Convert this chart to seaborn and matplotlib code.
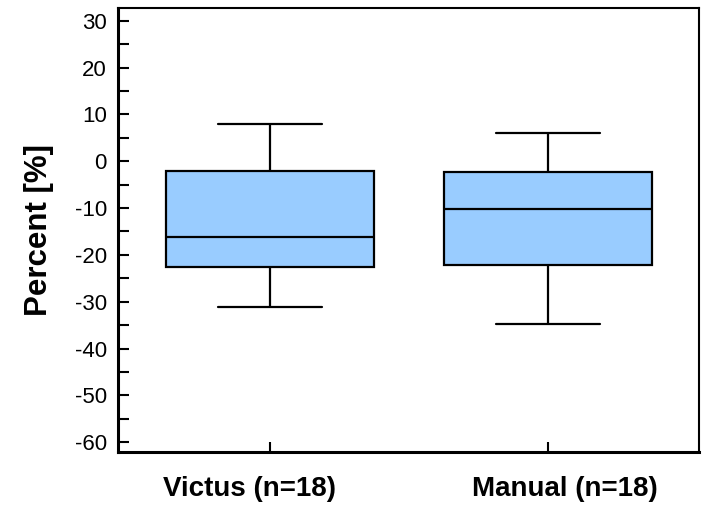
import matplotlib
matplotlib.use("Agg")
import matplotlib.pyplot as plt
import matplotlib.transforms as mtransforms
import seaborn as sns
import pandas as pd
from matplotlib.ticker import MultipleLocator

# Box summary values (min, Q1, median, Q3, max)
victus_values = [-31.1, -22.6, -16.2, -2.1, 7.9]
manual_values = [-34.8, -22.2, -10.2, -2.3, 6.1]
categories = ["Victus (n=18)", "Manual (n=18)"]

df = pd.DataFrame({
    "group": [categories[0]] * len(victus_values) + [categories[1]] * len(manual_values),
    "value": victus_values + manual_values,
})

sns.set_style("white")
plt.rcParams["font.family"] = ["Liberation Sans", "DejaVu Sans"]
plt.rcParams["axes.unicode_minus"] = False
for key in ["text.color", "axes.labelcolor", "xtick.color", "ytick.color",
            "xtick.labelcolor", "ytick.labelcolor"]:
    plt.rcParams[key] = "black"

fig = plt.figure(figsize=(7.03, 5.09), dpi=100)
ax = fig.add_axes([0.168, 0.112, 0.8263, 0.872])

sns.boxplot(data=df, x="group", y="value", order=categories, ax=ax,
            color="#99CCFF", saturation=1, width=0.75, whis=(0, 100),
            linewidth=1.6, linecolor="black", fill=True,
            medianprops=dict(color="black", linewidth=1.6),
            boxprops=dict(edgecolor="black", linewidth=1.6),
            whiskerprops=dict(color="black", linewidth=1.6),
            capprops=dict(color="black", linewidth=1.6))

ax.set_xlim(-0.547, 1.543)
ax.set_ylim(-62.1, 32.7)
ax.yaxis.set_major_locator(MultipleLocator(10))
ax.yaxis.set_minor_locator(MultipleLocator(5))

ax.set_xlabel("")
ax.set_ylabel("Percent [%]", fontsize=22.5, fontweight="bold", labelpad=15,
              color="black")

ax.tick_params(axis="y", which="both", direction="in", length=8, width=1.5,
               labelsize=16, pad=8, left=True, color="black", labelcolor="black")
ax.tick_params(axis="x", which="major", direction="in", length=7, width=1.5,
               labelsize=20, pad=17, bottom=True, color="black", labelcolor="black")

# label offsets (px) seen in the reference
offsets = [-21, 17]
for lab, dx in zip(ax.get_xticklabels(), offsets):
    lab.set_fontweight("bold")
    lab.set_transform(lab.get_transform() +
                      mtransforms.ScaledTranslation(dx / 100, 0, fig.dpi_scale_trans))

for side in ["left", "bottom"]:
    ax.spines[side].set_linewidth(2.2)
    ax.spines[side].set_color("black")
for side in ["top", "right"]:
    ax.spines[side].set_linewidth(1.5)
    ax.spines[side].set_color("black")

fig.savefig("out.png", dpi=100)
